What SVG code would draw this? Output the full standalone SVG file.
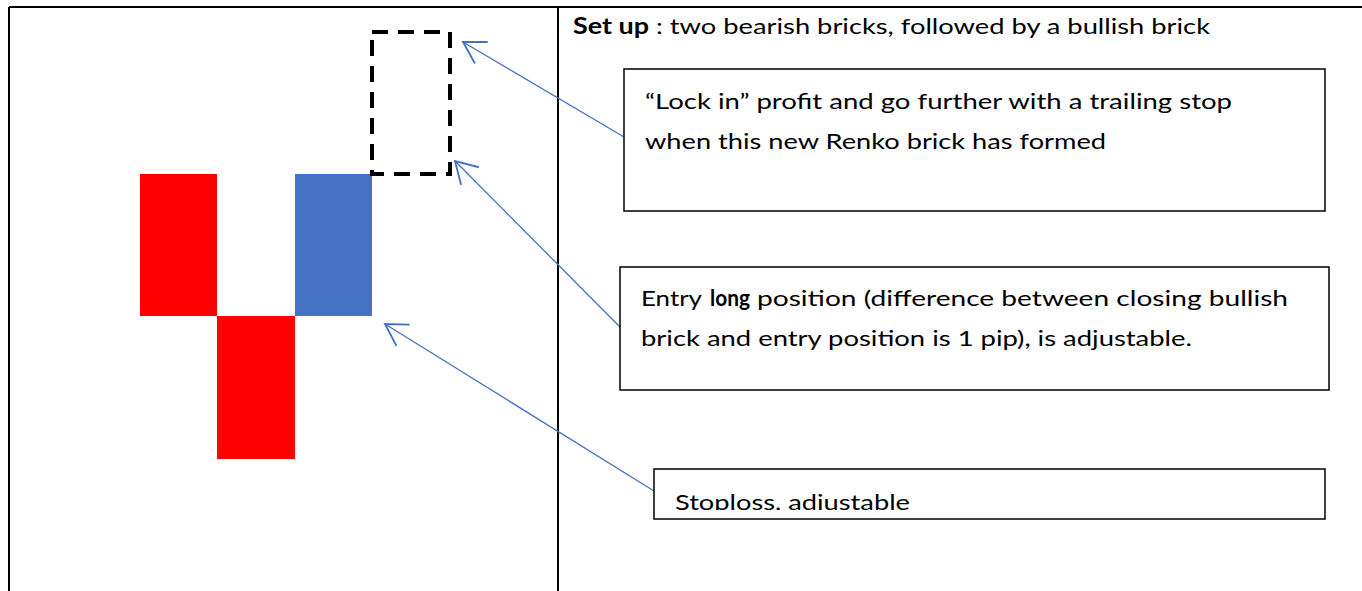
<svg xmlns="http://www.w3.org/2000/svg" width="1362" height="591" viewBox="0 0 1362 591">
  <style>
    .grid { stroke: #000; stroke-width: 2; fill: none; }
    .box { fill: #fff; stroke: #000; stroke-width: 1.5; }
    .txt { font-family: Lato, "Open Sans", "Liberation Sans", sans-serif; font-size: 22px; fill: #000; }
    .b { font-weight: bold; }
    .conn { stroke: #4472C4; stroke-width: 1.3; fill: none; marker-end: url(#arr); }
    .bear { fill: #FF0000; }
    .bull { fill: #4472C4; }
  </style>
  <defs>
    <marker id="arr" markerUnits="userSpaceOnUse" markerWidth="30" markerHeight="30" refX="0" refY="0" viewBox="-20 -12 22 24" orient="auto">
      <path d="M-17,-10 L0,0 L-17,10" fill="none" stroke="#4472C4" stroke-width="1.5"/>
    </marker>
    <clipPath id="clip3">
      <rect x="654" y="469" width="671" height="41"/>
    </clipPath>
  </defs>
  <rect width="1362" height="591" fill="#fff"/>

  <g id="table">
    <line class="grid" x1="9" y1="7" x2="1362" y2="7"/>
    <line class="grid" x1="9" y1="7" x2="9" y2="591"/>
    <line class="grid" x1="558" y1="7" x2="558" y2="591"/>
  </g>

  <g id="bricks">
    <rect id="bear1" class="bear" x="140" y="174" width="77" height="142"/>
    <rect id="bear2" class="bear" x="217" y="316" width="78" height="143"/>
    <rect id="bull1" class="bull" x="295" y="174" width="77" height="142"/>
  </g>

  <g id="newbrick">
    <rect x="372" y="32" width="78" height="142" fill="none" stroke="#000" stroke-width="4" stroke-dasharray="16 10"/>
  </g>

  <g id="setup">
    <text class="txt b" x="573" y="34" textLength="76" lengthAdjust="spacingAndGlyphs">Set up</text>
    <text class="txt" x="656" y="34" textLength="554" lengthAdjust="spacingAndGlyphs">: two bearish bricks, followed by a bullish brick</text>
  </g>

  <g id="connectors">
    <line class="conn" x1="624" y1="137" x2="463" y2="42"/>
    <line class="conn" x1="620" y1="327" x2="455" y2="161"/>
    <line class="conn" x1="654" y1="491" x2="385" y2="324"/>
  </g>

  <g id="box-lockin">
    <rect class="box" x="624" y="69" width="701" height="142"/>
    <text class="txt" x="645" y="109" textLength="587" lengthAdjust="spacingAndGlyphs">“Lock in” profit and go further with a trailing stop</text>
    <text class="txt" x="645" y="149" textLength="461" lengthAdjust="spacingAndGlyphs">when this new Renko brick has formed</text>
  </g>

  <g id="box-entry">
    <rect class="box" x="620" y="267" width="709" height="123"/>
    <text class="txt" x="641" y="306" textLength="61" lengthAdjust="spacingAndGlyphs">Entry</text>
    <text class="txt b" x="710" y="306" textLength="40" lengthAdjust="spacingAndGlyphs">long</text>
    <text class="txt" x="757" y="306" textLength="531" lengthAdjust="spacingAndGlyphs">position (difference between closing bullish</text>
    <text class="txt" x="641" y="346" textLength="551" lengthAdjust="spacingAndGlyphs">brick and entry position is 1 pip), is adjustable.</text>
  </g>

  <g id="box-stoploss">
    <rect class="box" x="654" y="469" width="671" height="50"/>
    <text class="txt" x="675" y="510" clip-path="url(#clip3)" textLength="235" lengthAdjust="spacingAndGlyphs">Stoploss, adjustable</text>
  </g>
</svg>
